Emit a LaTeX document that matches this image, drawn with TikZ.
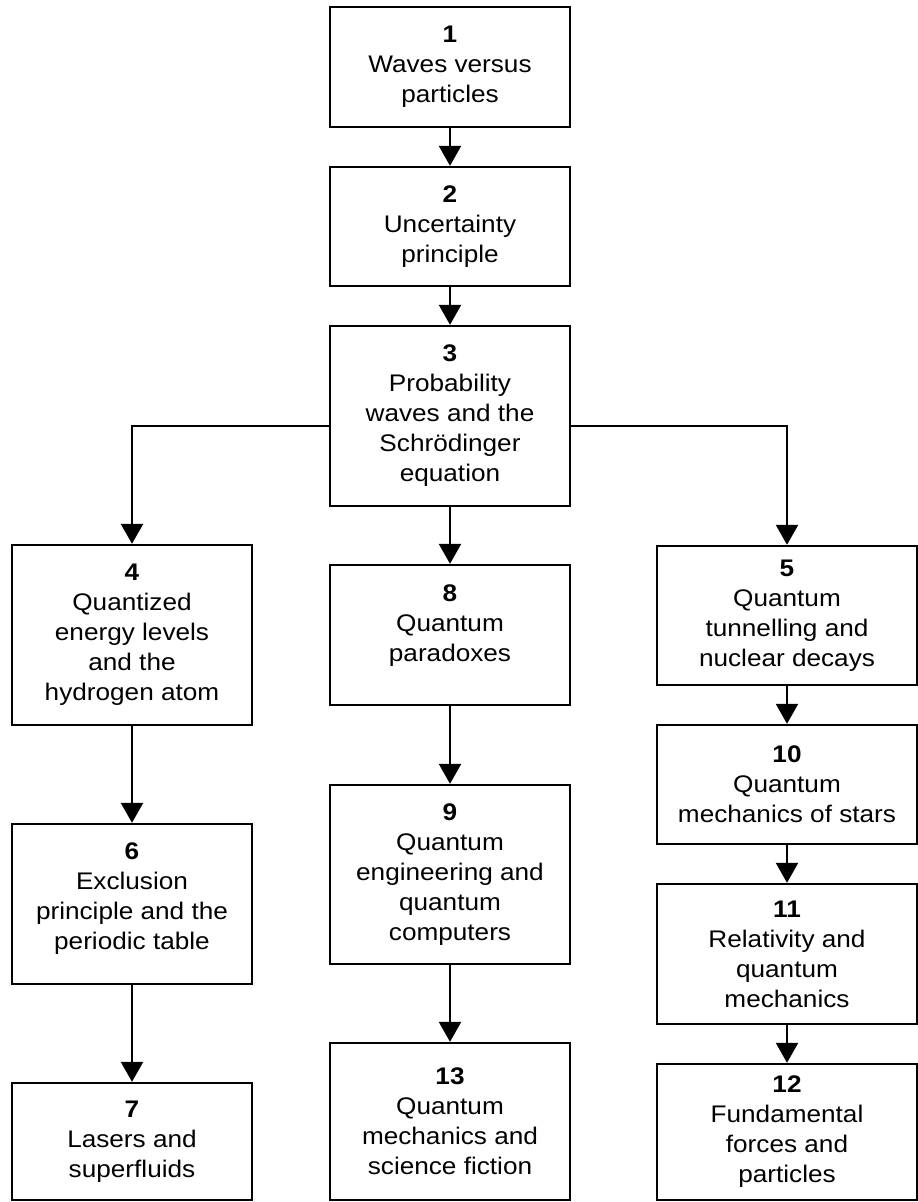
\documentclass[tikz,border=0pt]{standalone}
\usepackage{fontspec}
\setmainfont[FakeStretch=1.09]{Liberation Sans}
\usetikzlibrary{arrows.meta}
\begin{document}
\begin{tikzpicture}[x=1pt,y=-1pt,
  box/.style={draw, line width=2.4pt, inner sep=0pt, align=center,
    font=\fontsize{24}{30}\selectfont, minimum width=240pt},
  wbox/.style={box, minimum width=260pt},
  arr/.style={line width=2.4pt, -{Triangle[length=20pt,width=22pt]}}]
\useasboundingbox[fill=white] (0,0) rectangle (918,1202);
% centre column
\node[box, minimum height=120pt] (b1) at (450,67) {\textbf{1}\\Waves versus\\particles};
\node[box, minimum height=119pt] (b2) at (450,226.5) {\textbf{2}\\Uncertainty\\principle};
\node[box, minimum height=180pt] (b3) at (450,416) {\textbf{3}\\Probability\\waves and the\\Schrödinger\\equation};
\node[box, minimum height=140pt] (b8) at (450,635) {};
\node[align=center, font=\fontsize{24}{30}\selectfont, inner sep=0pt] (t8) at (450,626) {\textbf{8}\\Quantum\\paradoxes};
\node[box, minimum height=179pt] (b9) at (450,874.5) {\textbf{9}\\Quantum\\engineering and\\quantum\\computers};
\node[box, minimum height=157pt] (b13) at (450,1121.5) {\textbf{13}\\Quantum\\mechanics and\\science fiction};
% left column
\node[box, minimum height=180pt] (b4) at (132,635) {\textbf{4}\\Quantized\\energy levels\\and the\\hydrogen atom};
\node[box, minimum height=160pt] (b6) at (132,904) {};
\node[align=center, font=\fontsize{24}{30}\selectfont, inner sep=0pt] (t6) at (132,899) {\textbf{6}\\Exclusion\\principle and the\\periodic table};
\node[box, minimum height=117pt] (b7) at (132,1141.5) {\textbf{7}\\Lasers and\\superfluids};
% right column
\node[wbox, minimum height=139pt] (b5) at (787,615.5) {\textbf{5}\\Quantum\\tunnelling and\\nuclear decays};
\node[wbox, minimum height=119pt] (b10) at (787,784.5) {\textbf{10}\\Quantum\\mechanics of stars};
\node[wbox, minimum height=140pt] (b11) at (787,954) {\textbf{11}\\Relativity and\\quantum\\mechanics};
\node[wbox, minimum height=136pt] (b12) at (787,1132) {\textbf{12}\\Fundamental\\forces and\\particles};
% connectors
\draw[arr] (b1) -- (b2);
\draw[arr] (b2) -- (b3);
\draw[arr] (b3) -- (b8);
\draw[arr] (b8) -- (b9);
\draw[arr] (b9) -- (b13);
\draw[arr] ([yshift=-10pt]b3.west) -| (b4.north);
\draw[arr] ([yshift=-10pt]b3.east) -| (b5.north);
\draw[arr] (b4) -- (b6);
\draw[arr] (b6) -- (b7);
\draw[arr] (b5) -- (b10);
\draw[arr] (b10) -- (b11);
\draw[arr] (b11) -- (b12);
\end{tikzpicture}
\end{document}
